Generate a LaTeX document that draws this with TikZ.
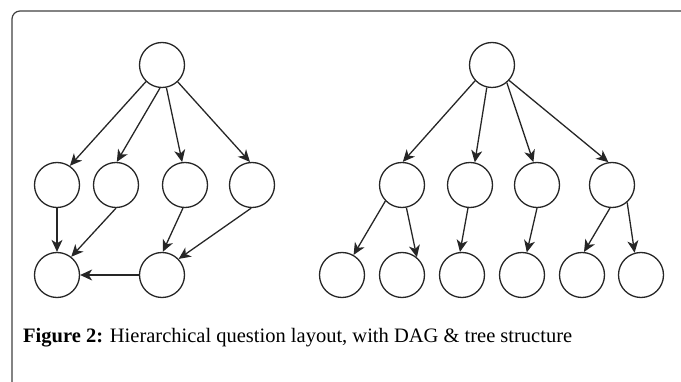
\documentclass[tikz,border=0pt]{standalone}
\usepackage{fontspec}
\setmainfont{Liberation Serif}
\usepackage{tikz}
\usetikzlibrary{arrows.meta}
\tikzstyle{vertex} = [circle, draw=black!85, line width=1.3pt, minimum size=45pt, inner sep=0pt]
\tikzstyle{line} = [draw=black!85, line width=1.3pt, -{Stealth[length=12pt, width=11pt, inset=3.5pt]}]
\tikzstyle{frame} = [draw=black!75, line width=1.2pt, rounded corners=8pt]

\begin{document}
\begin{tikzpicture}[x=1pt, y=-1pt]
		\useasboundingbox (0,0) rectangle (681,382);
		\path [frame] (12,390) -- (12,11) -- (690,11);
		% DAG: place nodes
		\node [vertex] (droot) at (162,65) {};
		\node [vertex] (da) at (57,185) {};
		\node [vertex] (db) at (116,185) {};
		\node [vertex] (dc) at (185,185) {};
		\node [vertex] (dd) at (252,185) {};
		\node [vertex] (dx) at (57,275) {};
		\node [vertex] (dy) at (162,275) {};
		% DAG: draw edges
		\path [line] (droot.-134) -- (da.56);
		\path [line] (droot.-95) -- (db.88);
		\path [line] (droot.-79) -- (dc.97);
		\path [line] (droot.-47) -- (dd.95);
		\path [line] (da) -- (dx);
		\path [line] (db.-90) -- (dx.52);
		\path [line] (dc.-95) -- (dy.88);
		\path [line] (dd.-92) -- (dy.44);
		\path [line] (dy) -- (dx);
		% Tree: place nodes
		\node [vertex] (troot) at (492,65) {};
		\node [vertex] (ta) at (402,185) {};
		\node [vertex] (tb) at (470,185) {};
		\node [vertex] (tc) at (537,185) {};
		\node [vertex] (td) at (612,185) {};
		\foreach \i/\x in {1/342,2/402,3/462,4/522,5/582,6/641}
			\node [vertex] (leaf\i) at (\x,275) {};
		% Tree: draw edges
		\path [line] (troot.-137) -- (ta.88);
		\path [line] (troot.-103) -- (tb.78);
		\path [line] (troot.-50) -- (tc.99);
		\path [line] (troot.-42) -- (td.99);
		\path [line] (ta.-136) -- (leaf1.60);
		\path [line] (ta.-79) -- (leaf2.50);
		\path [line] (tb.-95) -- (leaf3.95);
		\path [line] (tc.-90) -- (leaf4.78);
		\path [line] (td.-95) -- (leaf5.85);
		\path [line] (td.-49) -- (leaf6.106);
		% Caption
		\node [anchor=base west, inner sep=0pt, font=\fontsize{20.5}{24}\selectfont] (caption) at (23,343)
			{\textbf{Figure 2:} Hierarchical question layout, with DAG \& tree structure};
	\end{tikzpicture}
\end{document}
